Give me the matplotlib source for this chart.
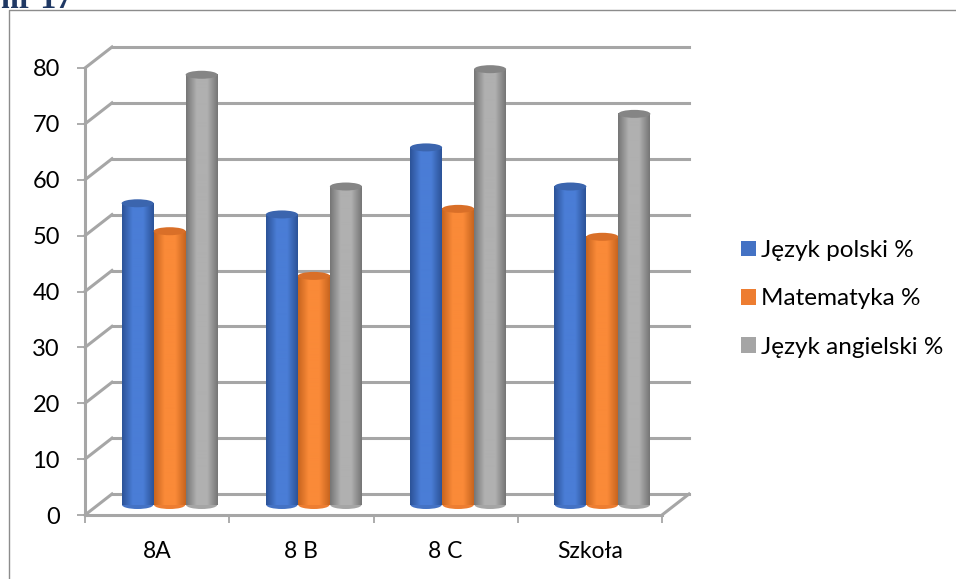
import numpy as np
import matplotlib.pyplot as plt
from matplotlib.colors import LinearSegmentedColormap
from matplotlib.lines import Line2D
from matplotlib.patches import Ellipse, Patch

plt.rcParams['font.family'] = ['Lato', 'DejaVu Sans']

categories = ['8A', '8 B', '8 C', 'Szkoła']
series_names = ['Język polski %', 'Matematyka %', 'Język angielski %']
polski = [54, 52, 64, 57]
matematyka = [49, 41, 53, 48]
angielski = [77, 57, 78, 70]
y_ticks = [0, 10, 20, 30, 40, 50, 60, 70, 80]

series = [polski, matematyka, angielski]
flat = ['#4472c4', '#ed7d31', '#a5a5a5']
edges = ['#2c5398', '#c8651f', '#767676']
middles = ['#4a7dd6', '#fa8a38', '#b0b0b0']
tops = ['#3b65ae', '#d96f28', '#858585']
grid_col = '#a6a6a6'

W, H = 956, 579
fig = plt.figure(figsize=(W / 100, H / 100), dpi=100)
# front plane of the fake 3d box
ax = fig.add_axes([85 / W, 1 - 515 / H, 577 / W, 447 / H])
ax.set_xlim(0, 4)
ax.set_ylim(0, 80)
ax.patch.set_visible(False)

px_x = 4 / 577
px_y = 80 / 447
dx = 27 * px_x
dy = 21 * px_y

# back wall and the diagonals
for v in y_ticks:
    ax.plot([4 + dx, dx], [v + dy, v + dy], color=grid_col, lw=2.2, clip_on=False, zorder=1)
    ax.plot([0, dx], [v, v + dy], color=grid_col, lw=2.2, clip_on=False, zorder=1)
ax.plot([4, 4 + dx], [0, dy], color=grid_col, lw=2.2, clip_on=False, zorder=1)

# cylinders
bar_w = 32 * px_x
shift = 12.5 * px_x
base = 10 * px_y
ell_h = 8 * px_y
for s, vals in enumerate(series):
    cmap = LinearSegmentedColormap.from_list('c', [edges[s], middles[s], middles[s], edges[s]])
    grad = np.linspace(0, 1, 64).reshape(1, -1)
    for i, v in enumerate(vals):
        x0 = i + 0.5 + shift + (s - 1.5) * bar_w
        x1 = x0 + bar_w
        xc = (x0 + x1) / 2
        z = 3 + s + i * 3
        ax.add_patch(Ellipse((xc, base), bar_w * 0.97, ell_h, fc=flat[s], ec='none', zorder=z))
        ax.imshow(grad, extent=(x0, x1, base, base + v), aspect='auto', cmap=cmap, zorder=z,
                  origin='lower', clip_on=False)
        ax.add_patch(Ellipse((xc, base + v), bar_w, ell_h, fc=tops[s], ec='none', zorder=z + 0.5,
                             clip_on=False))
ax.set_xlim(0, 4)
ax.set_ylim(0, 80)

for side in ['top', 'right']:
    ax.spines[side].set_visible(False)
for side in ['left', 'bottom']:
    ax.spines[side].set_color(grid_col)
    ax.spines[side].set_linewidth(2.2)
    ax.spines[side].set_zorder(2)

ax.set_yticks(y_ticks)
ax.set_xticks([0, 1, 2, 3, 4])
ax.set_xticklabels([])
ax.set_xticks([0.5, 1.5, 2.5, 3.5], labels=categories, minor=True)
ax.tick_params(axis='x', which='major', length=6, width=1.3, color=grid_col)
ax.tick_params(axis='x', which='minor', length=0, pad=18.5, labelsize=16.5, labelcolor='black')
ax.tick_params(axis='y', length=6, width=1.3, color=grid_col, pad=12, labelsize=17)

handles = [Patch(fc=c, ec='none') for c in flat]
fig.legend(handles, series_names, loc='upper left', bbox_to_anchor=(741 / W, 1 - 240 / H),
           frameon=False, fontsize=17.5, handlelength=0.62, handleheight=0.62, handletextpad=0.21,
           labelspacing=1.13, borderpad=0, borderaxespad=0)

# frame around the pasted chart, cut by the page edge
fig.add_artist(Line2D([9 / W, 9 / W, 1], [0, 1 - 10 / H, 1 - 10 / H], color='#8c8c8c', lw=1))

# heading of the document, mostly cropped away
fig.text(1 / W, 1 - 8 / H, 'nr 17', fontsize=23, fontweight='bold', family='Liberation Serif',
         color='#1f3864', va='baseline', ha='left')

fig.savefig('out.png', dpi=100)
